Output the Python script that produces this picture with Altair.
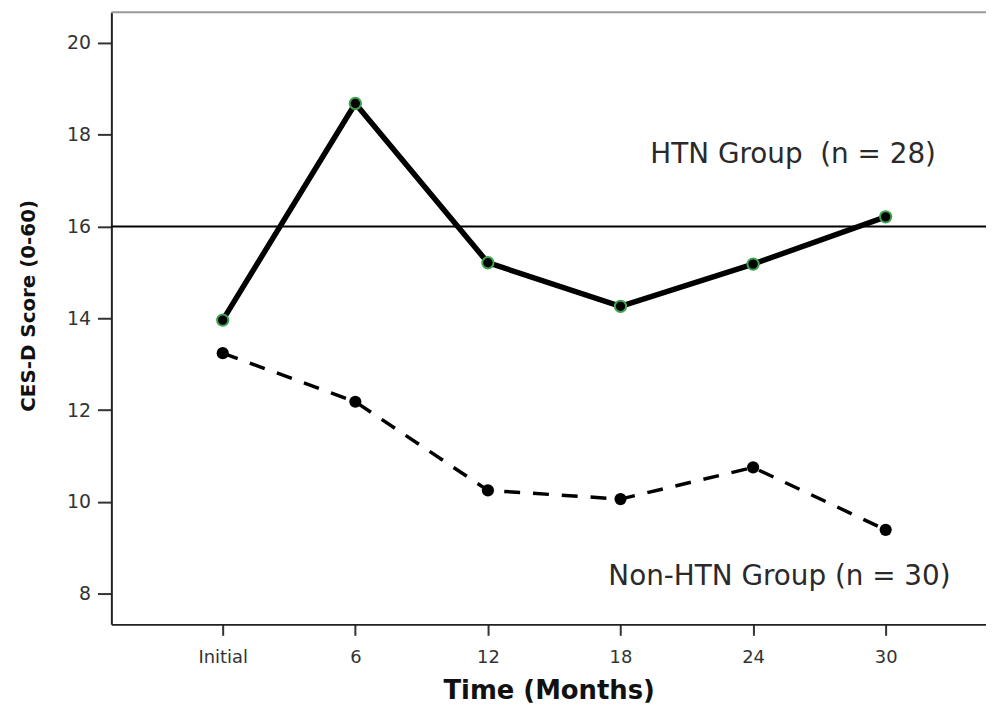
import altair as alt
import pandas as pd

months = [0, 6, 12, 18, 24, 30]
tick_labels = ["Initial", "6", "12", "18", "24", "30"]
htn_scores = [13.96, 18.68, 15.21, 14.26, 15.18, 16.21]
non_htn_scores = [13.24, 12.18, 10.25, 10.06, 10.75, 9.39]
cutoff = [16]
labels_text = ["HTN Group \u00a0(n = 28)", "Non-HTN Group (n = 30)"]
labels_x = [19.35, 17.45]
labels_y = [17.55, 8.37]

XDOM = [-5.04, 34.54]
YDOM = [7.33, 20.67]

htn = pd.DataFrame({"month": months, "score": htn_scores})
non = pd.DataFrame({"month": months, "score": non_htn_scores})
ref = pd.DataFrame({"score": cutoff})
lab = pd.DataFrame({"t": labels_text, "month": labels_x, "score": labels_y})
top = pd.DataFrame({"score": [YDOM[1]]})

label_expr = "datum.value == 0 ? 'Initial' : datum.label"

xs = alt.Scale(domain=XDOM, nice=False, zero=False)
ys = alt.Scale(domain=YDOM, nice=False, zero=False)
x_axis = alt.Axis(values=months, labelExpr=label_expr, title="Time (Months)")
y_axis = alt.Axis(values=[8, 10, 12, 14, 16, 18, 20], title="CES-D Score (0-60)", titleY=295)

x_enc = alt.X("month:Q", scale=xs, axis=x_axis)
y_enc = alt.Y("score:Q", scale=ys, axis=y_axis)

top_rule = alt.Chart(top).mark_rule(color="#999", strokeWidth=2).encode(y=y_enc)
ref_rule = alt.Chart(ref).mark_rule(color="#000", strokeWidth=2).encode(y=y_enc)

htn_line = alt.Chart(htn).mark_line(color="#000", strokeWidth=5.5).encode(x=x_enc, y=y_enc)
htn_pts = alt.Chart(htn).mark_point(
    filled=True, color="#000", size=130, stroke="#3fa34d", strokeWidth=2, opacity=1
).encode(x=x_enc, y=y_enc)

non_line = alt.Chart(non).mark_line(
    color="#000", strokeWidth=3.5, strokeDash=[16, 13]
).encode(x=x_enc, y=y_enc)
non_pts = alt.Chart(non).mark_point(
    filled=True, color="#000", size=150, opacity=1
).encode(x=x_enc, y=y_enc)

texts = alt.Chart(lab).mark_text(
    align="left", baseline="middle", font="DejaVu Sans", fontSize=28, color="#2a2a2a"
).encode(x=x_enc, y=y_enc, text="t:N")

chart = alt.layer(
    htn_line, top_rule, ref_rule, htn_pts, non_line, non_pts, texts
).properties(
    width=880, height=616,
    autosize=alt.AutoSizeParams(type="none"),
    padding={"left": 104, "top": 2, "right": 0, "bottom": 85},
).configure(background="white").configure_view(stroke=None).configure_axis(
    grid=False, domainColor="#222", domainWidth=2, tickColor="#333",
    tickWidth=2, labelFont="DejaVu Sans", labelColor="#333",
    titleFont="DejaVu Sans", titleFontWeight="bold", titleColor="#111",
).configure_axisX(
    tickSize=11, labelFontSize=18, labelPadding=13, titleFontSize=26, titlePadding=12,
).configure_axisY(
    tickSize=14, labelFontSize=19, labelPadding=7, titleFontSize=20, titlePadding=28,
)

chart.save("out.html", embed_options={"renderer": "svg", "actions": False})
